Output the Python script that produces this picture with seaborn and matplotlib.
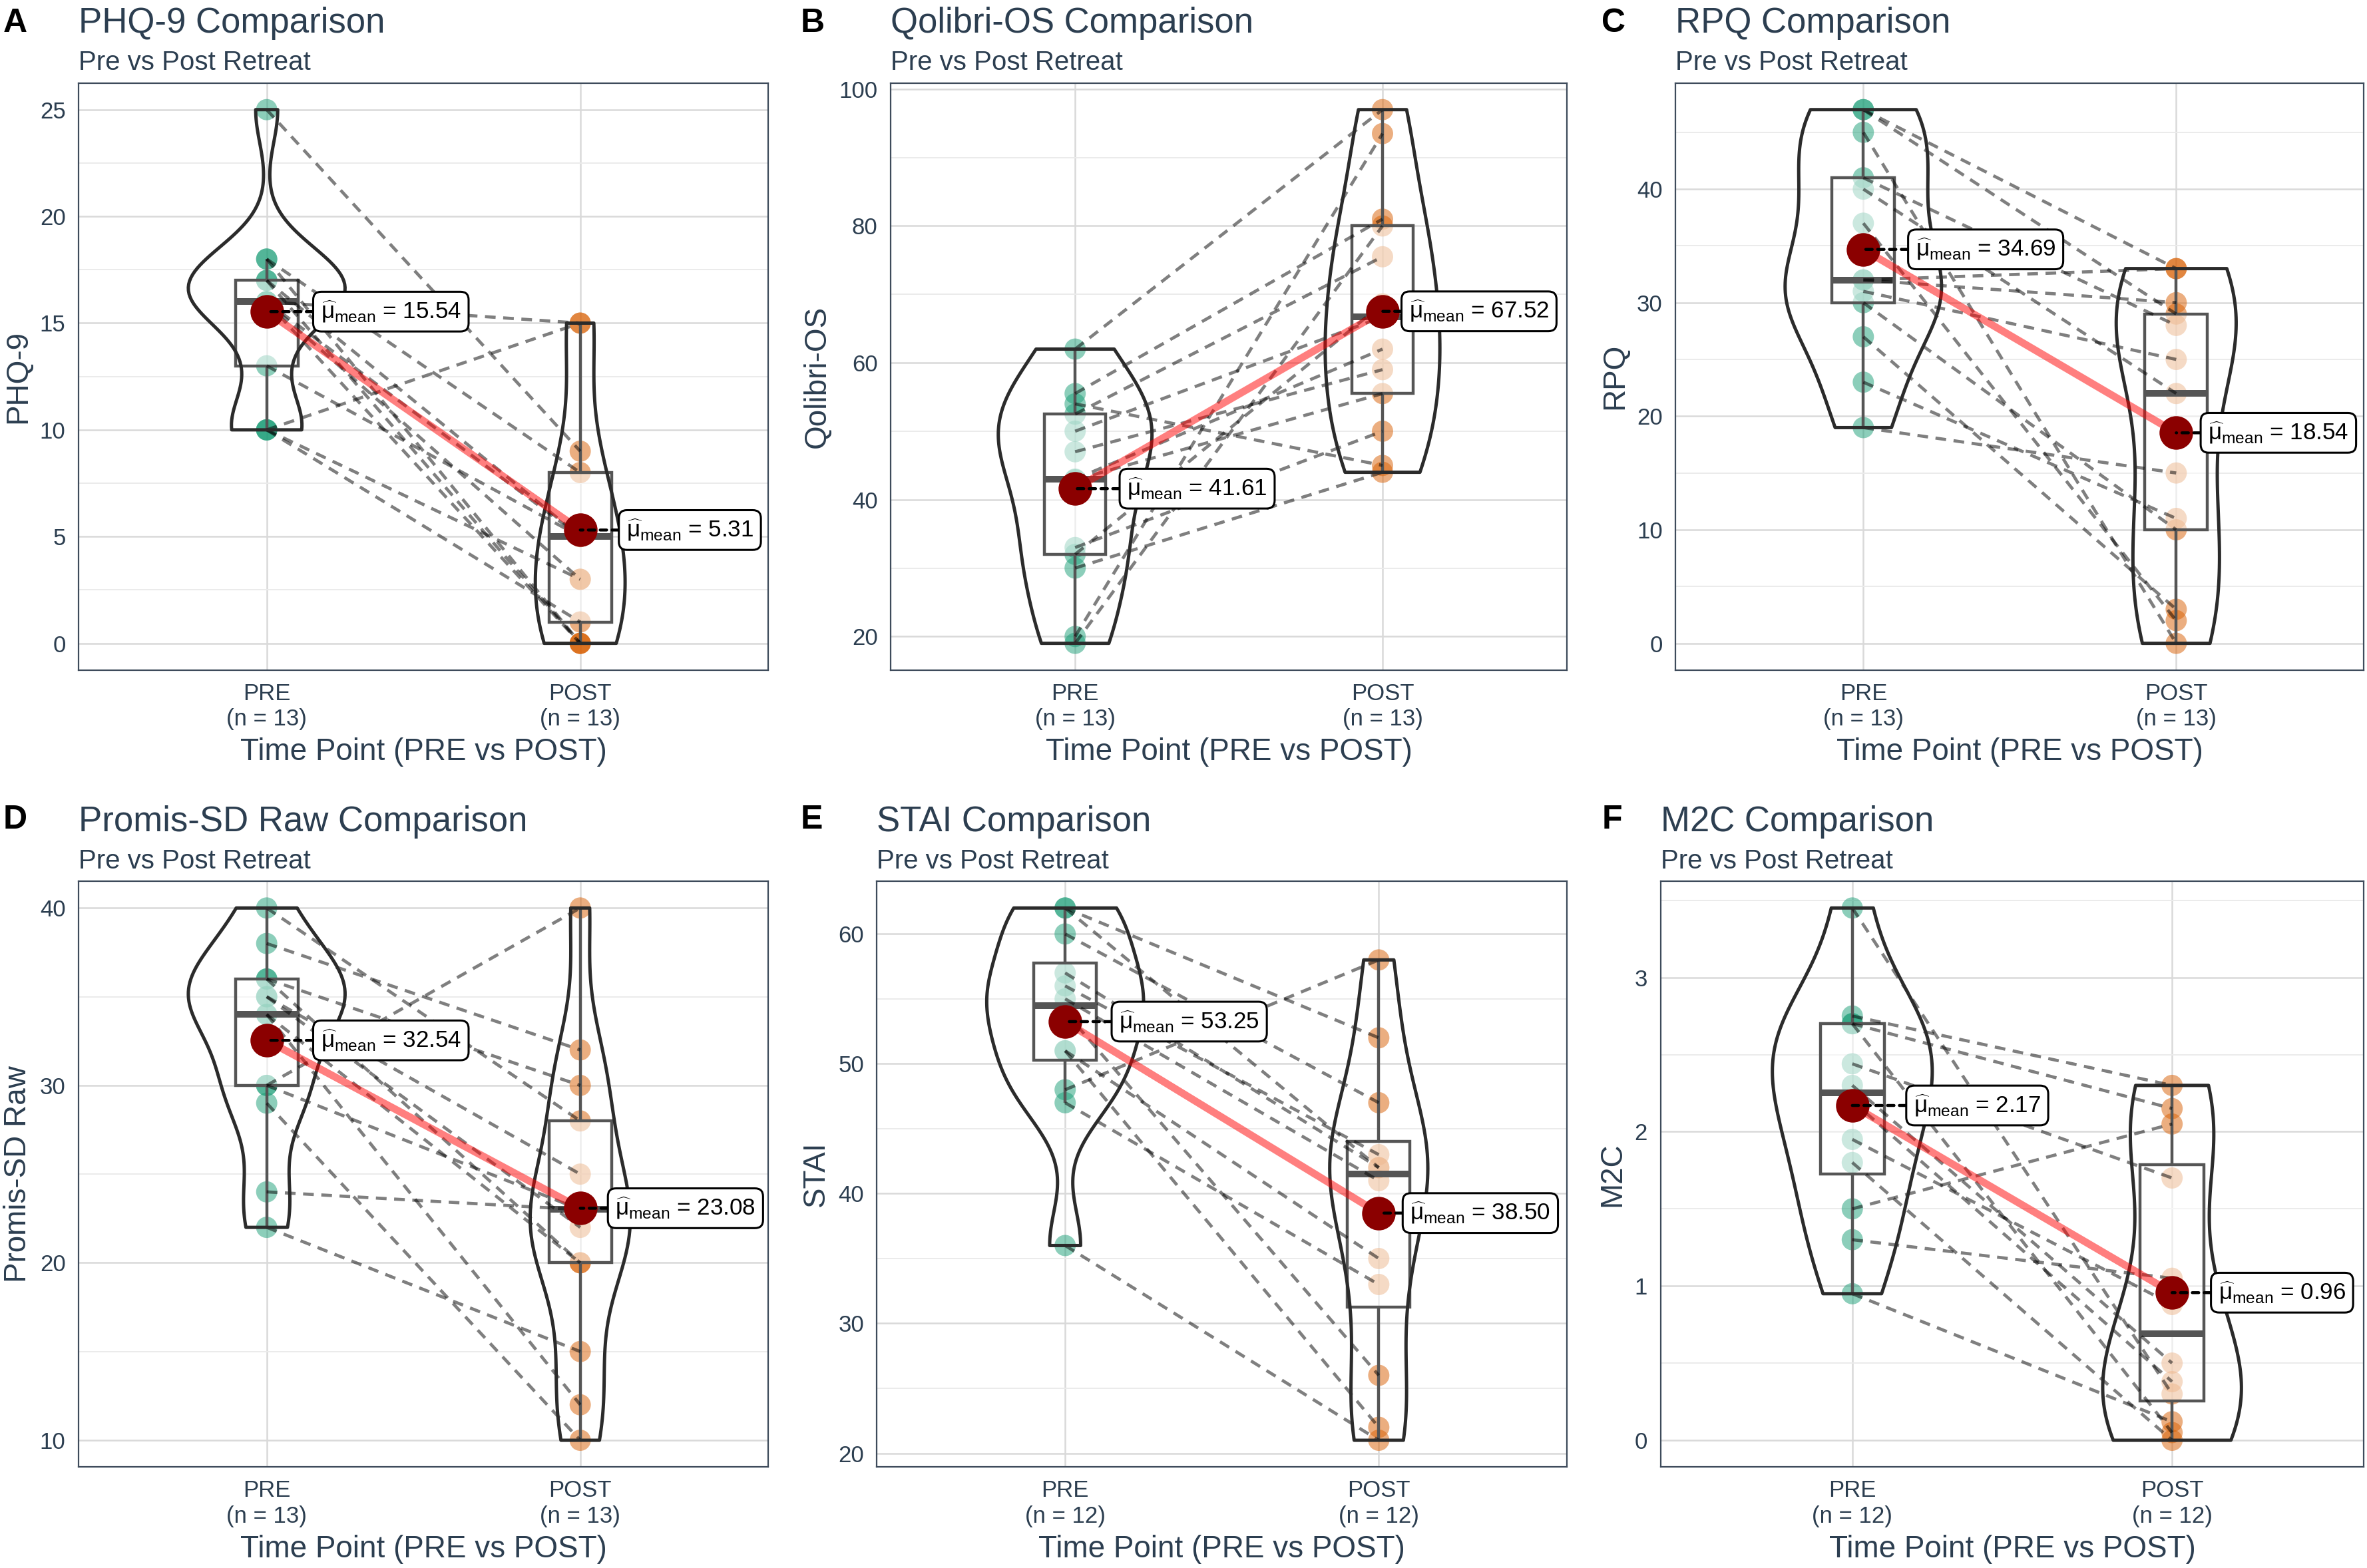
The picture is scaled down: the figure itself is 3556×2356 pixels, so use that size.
import numpy as np
import pandas as pd
import matplotlib
matplotlib.use("Agg")
import matplotlib.pyplot as plt
from matplotlib.patches import PathPatch
from matplotlib.lines import Line2D
from matplotlib.ticker import MultipleLocator
import seaborn as sns

# ---------------- data ----------------
time_levels = ["PRE", "POST"]
panel_letters = ["A", "B", "C", "D", "E", "F"]
panel_titles = ["PHQ-9 Comparison", "Qolibri-OS Comparison", "RPQ Comparison",
                "Promis-SD Raw Comparison", "STAI Comparison", "M2C Comparison"]
subtitle_text = "Pre vs Post Retreat"
y_labels = ["PHQ-9", "Qolibri-OS", "RPQ", "Promis-SD Raw", "STAI", "M2C"]
x_label = "Time Point (PRE vs POST)"
y_tick_steps = [5, 20, 10, 10, 10, 1]

# paired values (same index = same participant)
phq_pre = [25, 18, 18, 17, 17, 16, 16, 16, 16, 13, 10, 10, 10]
phq_post = [9, 0, 8, 0, 5, 15, 5, 0, 3, 5, 15, 1, 3]
qol_pre = [62, 55.5, 54, 52.5, 50, 47, 43, 42.9, 33, 32, 30, 20, 19]
qol_post = [97, 81, 45, 75.5, 66.7, 59, 62, 55.5, 50, 68.6, 44, 93.5, 80]
rpq_pre = [47, 47, 45, 41, 40, 37, 32, 32, 31, 30, 27, 23, 19]
rpq_post = [33, 29, 0, 28, 22, 2, 33, 30, 25, 10, 3, 11, 15]
promis_pre = [40, 38, 36, 36, 35, 35, 34, 34, 30, 30, 29, 24, 22]
promis_post = [28, 32, 30, 20, 25, 22, 12, 20, 40, 23, 10, 23, 15]
stai_pre = [62, 62, 60, 57, 56, 55, 54, 51, 51, 48, 47, 36]
stai_post = [52, 42, 47, 42, 43, 41, 26, 35, 22, 58, 33, 21]
m2c_pre = [3.45, 2.75, 2.7, 2.7, 2.44, 2.3, 2.2, 1.95, 1.8, 1.5, 1.3, 0.95]
m2c_post = [0.3, 2.3, 2.15, 0.05, 1.7, 0.5, 0.38, 0.88, 0.0, 2.05, 1.05, 0.12]

pre_values = [phq_pre, qol_pre, rpq_pre, promis_pre, stai_pre, m2c_pre]
post_values = [phq_post, qol_post, rpq_post, promis_post, stai_post, m2c_post]

# ---------------- style / layout ----------------
GREEN = "#1B9E77"
ORANGE = "#D95F02"
TXT = "#2C3E50"

sns.set_theme(style="white")
plt.rcParams["font.family"] = ["Liberation Sans", "DejaVu Sans"]
plt.rcParams["mathtext.fontset"] = "custom"
plt.rcParams["mathtext.rm"] = "Liberation Sans"
plt.rcParams["mathtext.it"] = "Liberation Sans:italic"
plt.rcParams["mathtext.bf"] = "Liberation Sans:bold"

AX_POS = [
    (0.0332, 0.5727, 0.2914, 0.3744),
    (0.3763, 0.5727, 0.2857, 0.3744),
    (0.7079, 0.5727, 0.2908, 0.3744),
    (0.0332, 0.0645, 0.2914, 0.3734),
    (0.3705, 0.0645, 0.2915, 0.3734),
    (0.7015, 0.0645, 0.2972, 0.3734),
]
LETTER_X = [0.0013, 0.3383, 0.6767]
TITLE_Y = [0.9790, 0.4697]
SUB_Y = [0.9553, 0.4459]
LETTER_Y = [0.9798, 0.4716]
LABEL_OFF = [(0.15, 0.125), (0.147, 0.064), (0.145, 0.08),
             (0.15, 0.09), (0.15, 0.078), (0.17, 0.123)]


def nrd0(v):
    v = np.asarray(v, float)
    sd = v.std(ddof=1)
    q75, q25 = np.percentile(v, [75, 25])
    lo = min(sd, (q75 - q25) / 1.34)
    if lo <= 0:
        lo = sd
    return 0.9 * lo * len(v) ** -0.2, sd


def kde_peak(v, h):
    v = np.asarray(v, float)
    g = np.linspace(v.min(), v.max(), 200)
    d = np.exp(-0.5 * ((g[:, None] - v[None, :]) / h) ** 2).sum(1)
    return (d / (len(v) * h * np.sqrt(2 * np.pi))).max()


def with_z(ax, fn, z, z_lines=None):
    before = set(ax.get_children())
    fn()
    new = [a for a in ax.get_children() if a not in before]
    for a in new:
        if z_lines is not None and isinstance(a, Line2D):
            a.set_zorder(z_lines)
        else:
            a.set_zorder(z)
    return new


fig = plt.figure(figsize=(17.78, 11.78), dpi=200)

for i in range(6):
    row, col = divmod(i, 3)
    ax = fig.add_axes(AX_POS[i])
    pre = np.asarray(pre_values[i], float)
    post = np.asarray(post_values[i], float)
    n = len(pre)
    df = pd.DataFrame({
        "subject": np.tile(np.arange(n), 2),
        "time": np.repeat(time_levels, n),
        "pos": np.repeat([0.0, 1.0], n),
        "value": np.concatenate([pre, post]),
    })

    # individual points
    with_z(ax, lambda: sns.stripplot(
        data=df, x="pos", y="value", hue="time", hue_order=time_levels,
        palette=[GREEN, ORANGE], native_scale=True, orient="x", jitter=False,
        size=11.5, alpha=0.5, linewidth=0, legend=False, ax=ax), 2)

    # boxplot (semi-transparent white fill on top of points)
    new = with_z(ax, lambda: sns.boxplot(
        data=df, x="pos", y="value", native_scale=True, orient="x", width=0.2,
        color="white", linecolor="#555555", linewidth=1.6, showfliers=False,
        medianprops={"linewidth": 3.6}, capprops={"visible": False}, ax=ax),
        3, z_lines=3.2)
    for a in new:
        if isinstance(a, PathPatch):
            a.set_facecolor((1, 1, 1, 0.55))

    # paired dashed lines
    with_z(ax, lambda: sns.lineplot(
        data=df, x="pos", y="value", units="subject", estimator=None,
        color="black", alpha=0.5, linewidth=1.7, linestyle=(0, (3.4, 2.4)),
        legend=False, ax=ax), 3.5)

    # violins, area-scaled between the two groups, nrd0 bandwidth
    groups = [pre, post]
    bws = [nrd0(g) for g in groups]
    peaks = [kde_peak(g, bw[0]) for g, bw in zip(groups, bws)]
    for k in range(2):
        sub = df[df["pos"] == float(k)]
        h, sd = bws[k]
        wk = 0.5 * peaks[k] / max(peaks)
        with_z(ax, lambda: sns.violinplot(
            data=sub, x="pos", y="value", native_scale=True, orient="x",
            fill=False, color="#2B2B2B", linewidth=1.8, inner=None, cut=0,
            bw_method=h / sd, width=wk, density_norm="area", ax=ax), 3.6)

    # means
    means = df.groupby("pos")["value"].mean()
    with_z(ax, lambda: sns.lineplot(
        x=means.index.values, y=means.values, color="red", alpha=0.5,
        linewidth=4.0, legend=False, ax=ax), 4)
    with_z(ax, lambda: sns.scatterplot(
        x=means.index.values, y=means.values, color="#8B0000", s=330,
        linewidth=0, legend=False, ax=ax), 5)
    for k in range(2):
        m = means.iloc[k]
        xk = means.index.values[k]
        ax.annotate(
            r"$\widehat{\mathrm{\mu}}_{\mathrm{mean}}$" + f" = {m:.2f}",
            xy=(xk, m), xytext=(xk + LABEL_OFF[i][k] + 0.022, m),
            ha="left", va="center", fontsize=12.6, color="black",
            bbox=dict(boxstyle="round,pad=0.32,rounding_size=0.35",
                      fc="white", ec="black", lw=1.1),
            arrowprops=dict(arrowstyle="-", color="black", lw=1.6,
                            linestyle=(0, (2.2, 1.8)), shrinkA=0, shrinkB=0),
            zorder=6)

    # axes cosmetics
    lo, hi = df["value"].min(), df["value"].max()
    r = hi - lo
    ax.set_ylim(lo - 0.05 * r, hi + 0.05 * r)
    ax.set_xlim(-0.6, 1.6)
    ax.set_xticks([0, 1])
    ax.set_xticklabels([f"{t}\n(n = {n})" for t in time_levels])
    ax.yaxis.set_major_locator(MultipleLocator(y_tick_steps[i]))
    ax.yaxis.set_minor_locator(MultipleLocator(y_tick_steps[i] / 2))
    ax.set_axisbelow(True)
    ax.grid(which="major", axis="both", color="#D9D9D9", linewidth=0.9)
    ax.grid(which="minor", axis="y", color="#EBEBEB", linewidth=0.7)
    ax.tick_params(which="both", length=0, pad=7, labelsize=12.5,
                   labelcolor=TXT)
    ax.set_xlabel(x_label, fontsize=16.5, color=TXT, labelpad=4)
    ax.set_ylabel(y_labels[i], fontsize=16.5, color=TXT, labelpad=4)
    for s in ax.spines.values():
        s.set_color("#3E4B5B")
        s.set_linewidth(0.8)

    x0 = AX_POS[i][0]
    fig.text(x0, TITLE_Y[row], panel_titles[i], fontsize=19, color=TXT,
             ha="left", va="baseline")
    fig.text(x0, SUB_Y[row], subtitle_text, fontsize=14.5, color=TXT,
             ha="left", va="baseline")
    fig.text(LETTER_X[col], LETTER_Y[row], panel_letters[i], fontsize=18,
             fontweight="bold", color="black", ha="left", va="baseline")

fig.savefig("out.png", dpi=200)
